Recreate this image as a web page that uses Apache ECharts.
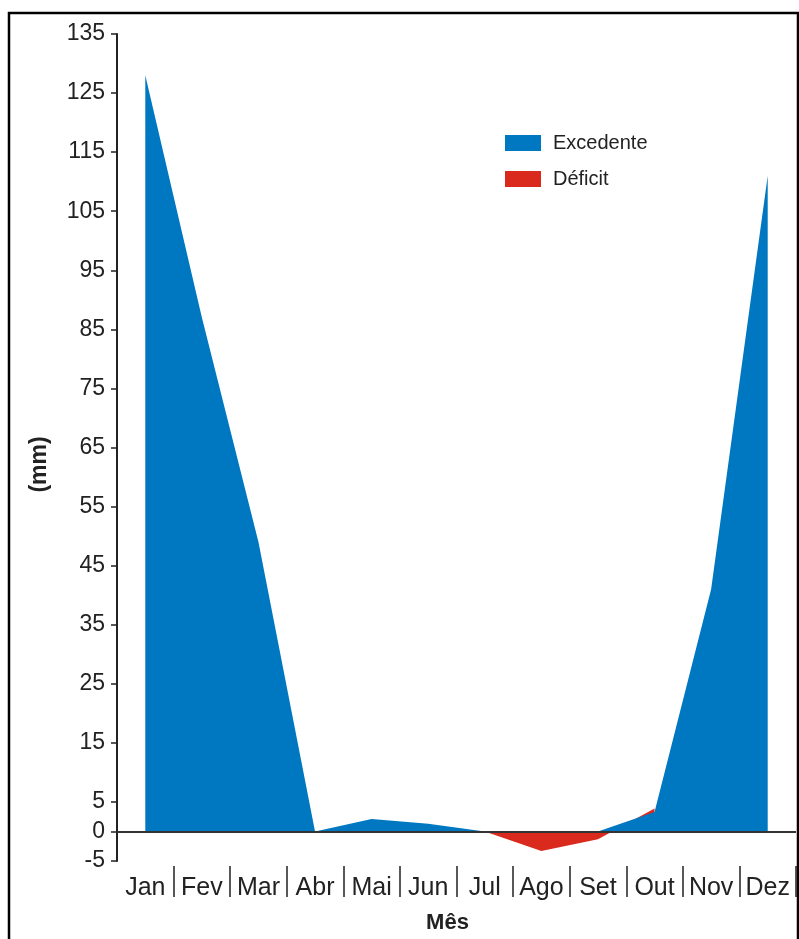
<!DOCTYPE html>
<html>
<head>
<meta charset="utf-8">
<script src="https://cdn.jsdelivr.net/npm/echarts@6/dist/echarts.min.js"></script>
<style>
html,body{margin:0;padding:0;background:#fff;}
#c{width:799px;height:939px;}
</style>
</head>
<body>
<div id="c"></div>
<script>
const months = ['Jan','Fev','Mar','Abr','Mai','Jun','Jul','Ago','Set','Out','Nov','Dez'];
const excedente = [128, 87, 49, 0, 2.1, 1.3, 0, 0, 0, 3.3, 41, 111];
const deficit = [null, null, null, null, null, null, 0, -3.3, -1.3, 3.9, null, null];
const yTicks = [-5, 0, 5, 15, 25, 35, 45, 55, 65, 75, 85, 95, 105, 115, 125, 135];

const FONT = '"Liberation Sans", Arial, sans-serif';
const chart = echarts.init(document.getElementById('c'), null, {renderer: 'canvas'});
chart.setOption({
  animation: false,
  backgroundColor: '#fff',
  textStyle: {fontFamily: FONT},
  graphic: [{
    type: 'rect', silent: true, z: 100,
    shape: {x: 9, y: 13, width: 789, height: 940},
    style: {fill: 'none', stroke: '#000', lineWidth: 2.5}
  }],
  grid: {left: 117, right: 3, top: 34, bottom: 78, containLabel: false},
  legend: {
    orient: 'vertical', left: 505, top: 133, padding: 0, itemWidth: 36, itemHeight: 16, itemGap: 16,
    icon: 'rect',
    textStyle: {fontSize: 20, color: '#222', fontFamily: FONT, padding: [0, 0, 0, 7]},
    data: ['Excedente', 'Déficit']
  },
  xAxis: {
    type: 'category', data: months, boundaryGap: true, offset: 5,
    name: 'Mês', nameLocation: 'middle', nameGap: 46,
    nameTextStyle: {fontSize: 22, fontWeight: 'bold', color: '#222', fontFamily: FONT, padding: [0, 18, 0, 0]},
    axisLine: {show: false, onZero: false},
    axisTick: {show: true, length: 31, lineStyle: {color: '#222', width: 1.5},
      interval: function (idx) { return idx !== 0; }},
    axisLabel: {fontSize: 25, color: '#222', margin: 10, fontFamily: FONT, interval: 0}
  },
  yAxis: {
    type: 'value', min: -5, max: 135, interval: 10,
    name: '(mm)', nameLocation: 'middle', nameRotate: 90, nameGap: 66,
    nameTextStyle: {fontSize: 23, fontWeight: 'bold', color: '#222', fontFamily: FONT, padding: [0, 0, 0, -34]},
    axisLine: {show: true, lineStyle: {color: '#222', width: 2}},
    axisTick: {show: true, length: 6, customValues: yTicks, lineStyle: {color: '#222', width: 1.5}},
    axisLabel: {fontSize: 23, color: '#222', margin: 12, customValues: yTicks, fontFamily: FONT},
    splitLine: {show: false}
  },
  series: [
    {
      name: 'Déficit', type: 'line', data: deficit, symbol: 'none', connectNulls: false,
      itemStyle: {color: '#DA2A1E'},
      lineStyle: {width: 0, color: '#DA2A1E'},
      areaStyle: {color: '#DA2A1E', opacity: 1, origin: 0}
    },
    {
      name: 'Excedente', type: 'line', data: excedente, symbol: 'none',
      itemStyle: {color: '#0077C1'},
      lineStyle: {width: 0, color: '#0077C1'},
      areaStyle: {color: '#0077C1', opacity: 1, origin: 0},
      markLine: {
        silent: true, symbol: 'none', label: {show: false},
        lineStyle: {color: '#333', width: 2, type: 'solid'},
        data: [{yAxis: 0}]
      }
    }
  ]
});
</script>
</body>
</html>
